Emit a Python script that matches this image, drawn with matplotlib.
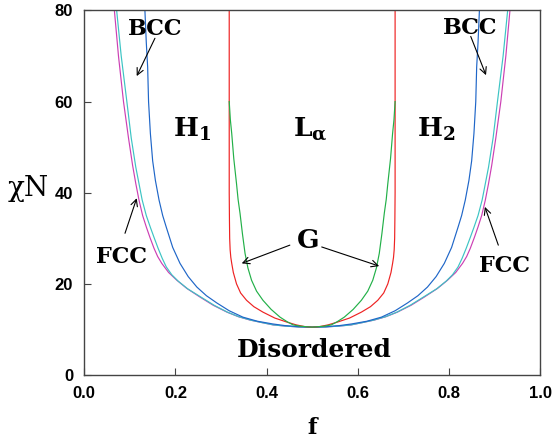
import numpy as np
import matplotlib
matplotlib.use("Agg")
import matplotlib.pyplot as plt

# ======================================
# Phase boundaries (left branch, f <= 0.5); right branch is the mirror f -> 1 - f
# ======================================

odt_f = [0.058, 0.066, 0.075, 0.086, 0.097, 0.106, 0.113, 0.120, 0.128, 0.136, 0.144,
         0.153, 0.161, 0.170, 0.185, 0.203, 0.225, 0.254, 0.283, 0.313, 0.338, 0.364,
         0.390, 0.414, 0.440, 0.470, 0.500]
odt_xn = [90.0, 80.0, 70.0, 60.0, 52.0, 46.0, 42.0, 38.4, 35.0, 32.5, 30.2,
          27.8, 26.0, 24.5, 22.5, 20.8, 19.0, 17.1, 15.3, 13.8, 12.8, 12.05,
          11.5, 11.0, 10.75, 10.55, 10.5]

fcc_bcc_f = [0.063, 0.071, 0.081, 0.093, 0.103, 0.113, 0.120, 0.127, 0.136, 0.145,
             0.153, 0.162, 0.171, 0.180, 0.192, 0.206, 0.227, 0.256, 0.285, 0.314,
             0.339, 0.365, 0.390, 0.415, 0.440, 0.470, 0.500]
fcc_bcc_xn = [90.0, 80.0, 70.0, 60.3, 52.0, 45.6, 42.0, 38.4, 35.0, 32.4,
              30.2, 27.8, 25.6, 23.7, 22.0, 20.6, 18.9, 17.1, 15.3, 13.8,
              12.8, 12.05, 11.5, 11.0, 10.75, 10.55, 10.5]

bcc_hex_f = [0.130, 0.133, 0.136, 0.139, 0.141, 0.145, 0.150, 0.156, 0.164, 0.172,
             0.180, 0.194, 0.210, 0.228, 0.247, 0.268, 0.291, 0.318, 0.348, 0.380,
             0.414, 0.440, 0.470, 0.500]
bcc_hex_xn = [90.0, 80.0, 73.0, 67.6, 60.0, 53.0, 47.0, 42.7, 38.4, 35.0,
              32.4, 28.0, 24.5, 21.6, 19.3, 17.4, 15.8, 14.1, 12.7, 11.8,
              11.2, 10.85, 10.6, 10.5]

hex_gyr_f = [0.318, 0.318, 0.3185, 0.319, 0.320, 0.3215, 0.3235, 0.327, 0.334, 0.343,
             0.356, 0.372, 0.392, 0.418, 0.445, 0.465, 0.485, 0.500]
hex_gyr_xn = [90.0, 40.0, 34.0, 30.0, 27.5, 25.8, 24.5, 22.5, 20.0, 18.0,
              16.4, 15.0, 13.8, 12.5, 11.6, 11.0, 10.6, 10.5]

gyr_lam_f = [0.318, 0.3205, 0.3235, 0.328, 0.334, 0.3375, 0.3417, 0.347, 0.3527, 0.359,
             0.367, 0.378, 0.392, 0.410, 0.4295, 0.445, 0.458, 0.475, 0.500]
gyr_lam_xn = [60.0, 56.0, 53.0, 47.5, 42.0, 38.5, 35.5, 31.0, 26.7, 23.5,
              20.8, 18.4, 16.4, 14.4, 12.7, 11.7, 11.0, 10.7, 10.5]

boundaries = [
    (odt_f, odt_xn, "#cc3fb4"),
    (fcc_bcc_f, fcc_bcc_xn, "#3cc4c4"),
    (bcc_hex_f, bcc_hex_xn, "#1f66c8"),
    (hex_gyr_f, hex_gyr_xn, "#ee2222"),
    (gyr_lam_f, gyr_lam_xn, "#22b048"),
]

x_ticks = [0.0, 0.2, 0.4, 0.6, 0.8, 1.0]
y_ticks = [0, 20, 40, 60, 80]

# ======================================
# Plot
# ======================================

plt.rcParams["mathtext.fontset"] = "custom"
plt.rcParams["mathtext.bf"] = "DejaVu Serif:bold"
plt.rcParams["mathtext.rm"] = "DejaVu Serif"

fig = plt.figure(figsize=(5.55, 4.4), dpi=100)
ax = fig.add_axes([0.1519, 0.1477, 0.8211, 0.8285])

for f, xn, color in boundaries:
    f = np.array(f)
    xn = np.array(xn)
    # full curve: left branch, then mirrored right branch
    f_full = np.concatenate([f, 1.0 - f[::-1][1:]])
    xn_full = np.concatenate([xn, xn[::-1][1:]])
    ax.plot(f_full, xn_full, color=color, linewidth=0.85)

ax.set_xlim(0, 1)
ax.set_ylim(0, 80)
ax.set_xticks(x_ticks)
ax.set_yticks(y_ticks)
ax.set_xticklabels([f"{v:.1f}" for v in x_ticks])
ax.set_yticklabels([str(v) for v in y_ticks])
ax.tick_params(direction="in", length=5, width=0.8, color="#444444", pad=8,
               labelsize=12)
for lab in ax.get_xticklabels() + ax.get_yticklabels():
    lab.set_fontfamily("Liberation Sans")
    lab.set_fontweight("bold")
for sp in ax.spines.values():
    sp.set_color("#444444")
    sp.set_linewidth(1.0)

serif = dict(family="DejaVu Serif", fontweight="bold", color="black")

# phase labels
ax.text(0.194, 52.4, r"$\mathbf{H}_\mathbf{1}$", fontsize=19, ha="left", va="baseline")
ax.text(0.458, 52.4, r"$\mathbf{L}_\mathbf{α}$", fontsize=19, ha="left", va="baseline")
ax.text(0.730, 52.4, r"$\mathbf{H}_\mathbf{2}$", fontsize=19, ha="left", va="baseline")
ax.text(0.504, 4.0, "Disordered", fontsize=18, ha="center", va="baseline", **serif)
ax.text(0.4916, 27.8, "G", fontsize=19, ha="center", va="baseline", **serif)
ax.text(0.155, 74.7, "BCC", fontsize=16, ha="center", va="baseline", **serif)
ax.text(0.846, 74.9, "BCC", fontsize=16, ha="center", va="baseline", **serif)
ax.text(0.0816, 24.5, "FCC", fontsize=16, ha="center", va="baseline", **serif)
ax.text(0.923, 22.6, "FCC", fontsize=16, ha="center", va="baseline", **serif)

# arrows pointing at the narrow phase windows
arrows = [
    ((0.155, 73.9), (0.115, 65.6)),
    ((0.848, 74.3), (0.8815, 65.8)),
    ((0.0893, 31.1), (0.115, 38.8)),
    ((0.9085, 28.5), (0.879, 36.9)),
    ((0.451, 28.5), (0.3454, 24.5)),
    ((0.521, 28.1), (0.647, 23.9)),
]
for tail, head in arrows:
    ax.annotate("", xy=head, xytext=tail,
                arrowprops=dict(arrowstyle="->", color="black", lw=0.8,
                                shrinkA=0, shrinkB=0, mutation_scale=12))

# axis titles
fig.text(8 / 555, 1 - 196 / 440, "χN", fontsize=20, family="DejaVu Serif",
         ha="left", va="baseline")
fig.text(311.7 / 555, 1 - 434 / 440, "f", fontsize=16, ha="center", va="baseline",
         **serif)

plt.savefig("out.png", dpi=100)
plt.close()
